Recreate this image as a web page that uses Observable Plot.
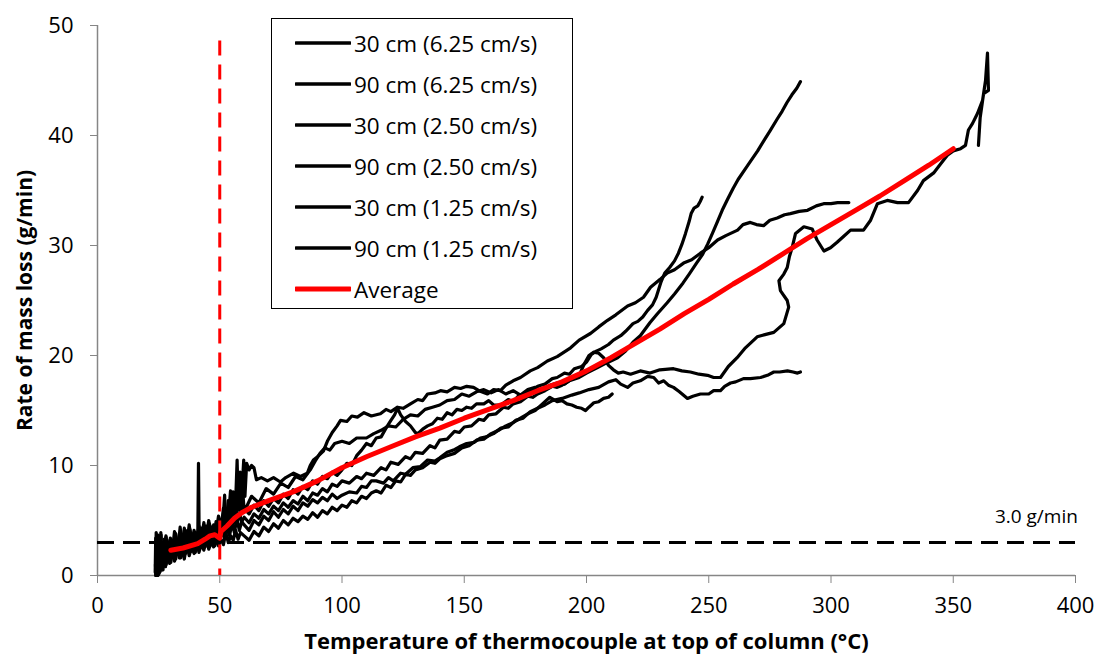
<!DOCTYPE html>
<html><head><meta charset="utf-8">
<script src="https://cdn.jsdelivr.net/npm/d3@7"></script>
<script src="https://cdn.jsdelivr.net/npm/@observablehq/plot@0.6"></script>
<style>
body{margin:0;background:#fff;}
#wrap{position:relative;width:1097px;height:662px;font-family:"Open Sans",sans-serif;}
#legend{position:absolute;left:271px;top:18px;width:302px;height:291px;border:1.5px solid #000;background:#fff;box-sizing:border-box;}
.row{position:absolute;left:0;height:32px;display:flex;align-items:center;font-size:22.5px;color:#000;white-space:nowrap;}
.row svg{margin-left:23px;margin-right:3px;}
</style></head><body><div id="wrap"></div>
<script>
// ---- data ----
const xTicks = [0,50,100,150,200,250,300,350,400];
const yTicks = [0,10,20,30,40,50];
const thresholdTemp = 50;      // red dashed vertical
const thresholdRate = 3.0;     // black dashed horizontal
const thresholdLabel = "3.0 g/min";
const xTitle = "Temperature of thermocouple at top of column (°C)";
const yTitle = "Rate of mass loss (g/min)";

const seriesNames = ["30 cm (6.25 cm/s)","90 cm (6.25 cm/s)","30 cm (2.50 cm/s)","90 cm (2.50 cm/s)","30 cm (1.25 cm/s)","90 cm (1.25 cm/s)","Average"];

const s30_625 = [[23.6,0.3],[23.8,3.4],[24,0.6],[24.2,2.9],[24.4,0.1],[24.6,3.7],[24.9,0.4],[25.2,3.0],[25.6,0.4],[26,3.7],[26.4,1.1],[26.8,2.6],[27.4,0.9],[28.2,3.0],[29,1.6],[30,3.3],[31,1.9],[32,3.8],[33,2.1],[34,3.4],[35,2.3],[36,4.1],[37,2.6],[38,3.7],[39,2.5],[40,3.9],[41,3.0],[41.3,10.2],[41.6,3.1],[42.5,4.3],[43.5,3.0],[44.5,4.5],[45.5,3.2],[46.5,4.4],[47.5,3.5],[48.5,4.9],[49.5,3.6],[50.5,5.1],[51.5,4.0],[52.5,5.8],[53.5,4.3],[54.5,6.2],[55.5,4.7],[56.5,6.0],[58,5.3],[60,6.1],[62,5.6],[64,6.4],[66,5.9],[68,6.8],[70,6.3],[72,7.0],[74,6.6],[76,7.4],[78,7.0],[80,7.8],[82,7.4],[84,8.1],[86,7.8],[88,8.6],[90,8.3],[92,9.0],[94,8.8],[96,9.4],[98,9.1],[100,9.6],[102,10.2],[104,10.0],[106,10.9],[108,11.4],[110,12.0],[112,11.8],[114,12.5],[116,12.6],[118,13.4],[120,14.1],[121.5,14.6],[122.7,15.2],[124,14.6],[126,14.0],[128,13.6],[130,13.0],[131,12.9],[133,13.3],[135,13.6],[137,13.8],[139,14.3],[141,14.2],[143,14.8],[145,14.6],[147,15.1],[149,15.0],[151,15.3],[153,15.2],[155,15.6],[158,15.6],[160,15.9],[162,15.5],[165,15.5],[168,16.0],[170,15.8],[172,16.3],[175,16.5],[178,16.9],[180,17.2],[183,17.4],[186,17.9],[188,18.0],[191,18.4],[193,18.3],[195,18.8],[198,19.0],[200,19.4],[202,20.1],[204,20.4],[206,20.6],[209,21.0],[211,21.4],[214,21.8],[216,22.2],[219,22.9],[221,23.1],[223,23.5],[225,24.1],[227,24.6],[228.5,25.3],[229.5,26.0],[230.5,26.7],[232,27.5],[234,28.0],[236,28.6],[237.6,29.3],[239,30.1],[240.5,31.1],[242,32.2],[242.8,32.9],[244,33.4],[245.5,33.6],[246.5,34.0],[247.3,34.4]];

const s90_625 = [[24.5,0],[24.7,2.5],[25,0.3],[25.3,3.1],[25.7,0.8],[26.2,2.2],[26.8,0.5],[27.5,2.8],[28.3,1.3],[29.2,2.4],[30.2,1.6],[31.2,3.0],[32.2,1.9],[33.2,2.7],[34.2,1.8],[35.2,3.2],[36.2,2.3],[37.2,3.5],[38.2,2.2],[39.2,3.1],[40.2,2.6],[41.2,3.6],[42.2,2.8],[43.2,3.9],[44.2,3.0],[45.2,4.2],[46.2,3.1],[47.2,3.8],[48.2,2.9],[49.2,4.1],[50.2,3.3],[51.2,4.6],[52,7.3],[52.5,3.9],[53.5,5.0],[54.4,7.7],[55,4.4],[56,5.2],[57,4.6],[58,5.6],[59,4.9],[60,5.3],[62,4.8],[64,5.6],[66,5.2],[68,6.0],[70,5.6],[72,6.3],[74,5.9],[76,6.6],[78,6.2],[80,6.8],[82,6.5],[84,7.2],[86,6.8],[88,7.5],[90,7.3],[92,7.9],[94,7.6],[96,8.3],[98,8.1],[100,8.6],[103,8.4],[106,9.0],[108,8.8],[110,9.3],[113,9.1],[116,9.8],[118,9.6],[120,10.3],[123,10.1],[126,10.8],[128,10.6],[130,11.2],[133,11.1],[136,11.8],[138,11.6],[140,12.3],[143,12.4],[146,13.1],[148,13.0],[150,13.5],[153,13.6],[156,14.2],[158,14.1],[160,14.6],[163,14.7],[166,15.3],[168,15.2],[170,15.6],[173,15.8],[176,16.3],[178,16.2],[180,16.5],[183,16.8],[186,17.2],[188,17.1],[190,17.3],[193,17.7],[197,18.0],[200,18.4],[204.5,18.9],[208,19.3],[212.7,19.8],[216,20.4],[219,21.2],[222,21.8],[226,23.0],[229,23.8],[233,24.8],[236,25.6],[239.5,26.6],[242,27.4],[245,28.4],[247.5,29.2],[249.5,30.1],[251.5,31.1],[253.6,32.2],[255.5,33.2],[257.7,34.2],[260,35.2],[262,36.0],[266,37.3],[270,38.6],[273,39.7],[275,40.4],[278,41.5],[280,42.2],[282,43.0],[284,43.7],[286,44.3],[287.5,44.9]];

const s30_250 = [[25,0.1],[25.2,2.2],[25.5,0.7],[25.9,3.9],[26.3,1.4],[26.8,3.0],[27.4,1.2],[28,3.5],[28.8,1.8],[29.6,3.2],[30.5,2.0],[31.5,4.0],[32.5,2.4],[33.5,3.7],[34.5,2.6],[35.5,4.3],[36.5,2.9],[37.5,4.6],[38.5,3.0],[39.5,4.1],[40.5,3.2],[41.5,4.5],[42.5,3.4],[43.5,4.8],[44.5,3.5],[45.5,5.0],[46.5,3.7],[47.5,4.6],[48.5,3.9],[49.5,5.4],[50.5,4.2],[51.5,6.1],[52.5,4.6],[53.5,6.8],[54.5,5.0],[55.5,7.6],[56.3,5.4],[57.1,10.5],[57.6,6.0],[58.3,9.4],[58.8,6.5],[59.8,10.5],[60.3,7.2],[61,10.2],[62,9.6],[63,10.0],[64,9.8],[65,8.7],[67,8.9],[69.5,8.6],[72,8.9],[74.8,8.5],[77,8.9],[80.2,9.3],[83,9.0],[85.8,9.3],[87,10.0],[88.3,10.5],[90,10.8],[92.4,11.3],[94,12.2],[96,13.0],[98,13.6],[99.4,14.1],[102,14.0],[104,14.5],[106.3,14.4],[109,14.8],[112,14.5],[115.7,14.7],[118,15.1],[120,14.9],[122.7,15.3],[125,15.2],[128,15.6],[131,16.0],[133,15.9],[135,16.5],[138,16.6],[140.3,16.8],[143,16.7],[146,17.1],[148.5,17.0],[151,17.2],[153.8,17.1],[156,16.8],[159.5,16.5],[162,16.9],[164.8,16.8],[167,17.3],[170,17.7],[173,18.0],[177,18.6],[180,18.9],[184,19.5],[188,19.9],[193.5,20.7],[197,21.4],[201.6,22.0],[205,22.6],[208.6,23.2],[212,23.7],[216.8,24.5],[220,24.8],[223.3,25.3],[226.2,26.2],[230,26.9],[233,27.5],[236,27.8],[239.7,28.4],[243,28.7],[246.6,29.3],[250,29.8],[253.6,30.5],[257,30.9],[261.8,31.4],[264,31.9],[267,32.1],[269.5,31.9],[272.4,31.8],[275,32.3],[278,32.5],[281,32.8],[283.4,32.9],[287,33.1],[290.4,33.2],[294,33.6],[297,33.8],[300,33.8],[302.7,33.9],[305,33.9],[307.3,33.9]];

const s90_250 = [[23.8,0],[24,3.9],[24.3,0.2],[24.6,2.4],[25,0.9],[25.4,3.1],[25.9,0.6],[26.5,2.7],[27.2,1.5],[28,3.6],[28.9,2.0],[29.8,3.4],[30.8,1.7],[31.8,2.9],[32.8,2.2],[33.8,4.4],[34.8,2.5],[35.8,3.5],[36.8,2.7],[37.8,4.2],[38.8,2.9],[39.8,3.6],[40.8,3.1],[41.8,4.2],[42.8,3.3],[43.8,4.0],[44.8,3.4],[45.8,4.7],[46.8,3.6],[47.8,4.3],[48.8,3.8],[49.8,5.0],[50.8,4.1],[51.8,5.4],[52.8,4.5],[53.8,6.3],[54.8,4.9],[55.8,6.6],[56.8,5.2],[58,8.0],[58.6,5.6],[59.5,7.4],[60,5.8],[63,7.2],[66,6.6],[69,7.9],[72,7.4],[75,8.4],[78,8.0],[81,9.0],[84,8.7],[87,9.6],[89,10.4],[91,11.1],[93,11.6],[95,11.4],[97,12.0],[100,12.2],[103,12.0],[106,12.5],[110,12.5],[113,12.9],[116,13.2],[119,13.6],[122,13.5],[125,14.2],[128,14.6],[131,14.5],[134,15.1],[137,15.3],[140,15.5],[143,15.9],[146,16.0],[149,16.5],[152,16.3],[155,16.7],[158,16.9],[161,16.6],[164,16.9],[167,16.5],[170,16.8],[173,16.4],[176,16.9],[179,17.1],[182,16.8],[185,17.3],[188,17.5],[191,17.4],[194,17.9],[197,18.2],[199,19.2],[201,20.0],[203,20.3],[205,20.2],[207,19.8],[209,19.1],[211,18.7],[213,18.4],[215,18.5],[218,18.3],[222,18.6],[226,18.4],[230,18.7],[235.6,18.8],[239,18.6],[242.5,18.5],[246,18.3],[249.5,18.2],[252,18.0],[254.8,18.0],[258,19.0],[261.6,19.8],[265,20.7],[269.8,21.7],[273,21.9],[276.6,22.1],[280.7,22.9],[282.7,24.4],[282.1,25.0],[279.3,25.9],[278.7,26.8],[280.7,27.4],[282.1,28.0],[283,29.0],[284.1,29.8],[285.5,31.1],[288.9,31.7],[292.3,31.5],[294.3,30.5],[297.1,29.5],[299.8,29.8],[302.5,30.3],[305,30.8],[308,31.4],[313.3,31.4],[316.2,32.3],[319,33.8],[323,34.1],[327.2,33.9],[331.7,33.9],[335.4,35.0],[337.8,35.9],[342,36.6],[344.8,37.4],[347.6,38.2],[350,38.6],[353,38.8],[355,39.1],[356.2,40.5],[357.9,41.1],[359.9,42.0],[362,43.2],[363.2,45.0],[364,47.5],[364.4,44.1],[362.4,43.8],[361,41.6],[360.3,39.1]];

const s30_125 = [[24.2,0.4],[24.4,2.9],[24.7,0],[25.1,3.6],[25.5,0.3],[26,2.0],[26.6,0.7],[27.3,3.3],[28.1,1.0],[29,2.6],[30,1.2],[31,2.8],[32,1.5],[33,3.0],[34,1.6],[35,2.7],[36,2.0],[37,3.3],[38,2.2],[39,2.9],[40,2.1],[41,3.4],[42,2.5],[43,3.3],[44,2.6],[45,3.9],[46,2.8],[47,3.6],[48,2.7],[49,3.5],[50,3.0],[51,4.2],[52,3.4],[53,4.5],[54,3.6],[55,4.8],[56,3.9],[57,5.2],[58,4.1],[59,4.9],[60,4.6],[62,4.1],[64,5.0],[66,4.6],[68,5.4],[70,5.0],[72,5.8],[74,5.3],[76,6.0],[78,5.6],[80,6.3],[82,5.9],[84,6.6],[86,6.3],[88,6.9],[90,6.6],[92,7.1],[94,6.8],[96,7.4],[98,7.0],[100,7.3],[103,7.6],[106,7.5],[108,8.1],[110,8.0],[112,8.6],[114,8.6],[117,8.4],[119,8.9],[121,8.6],[124,9.3],[126,9.2],[129,9.8],[132,9.9],[135,10.5],[138,10.4],[140,10.7],[143,11.2],[145.6,11.4],[148,11.7],[151,12.0],[154,12.1],[156.6,12.5],[159,12.6],[162,12.9],[165,13.4],[168,13.5],[171,14.1],[174,14.3],[177,14.9],[180,15.2],[183,15.5],[186,15.9],[190,16.1],[194,16.4],[197,16.6],[201,16.9],[205,17.1],[209,17.6],[212,17.8],[214,17.4],[216.8,17.1],[219,17.5],[222,17.7],[225,18.1],[227.5,18.0],[229.5,17.5],[231.6,17.7],[233.5,17.3],[235.6,17.1],[238,16.7],[241.3,16.1],[243.5,16.3],[246.6,16.5],[250,16.5],[252,16.8],[254.8,16.8],[256.5,17.2],[258.9,17.5],[261,17.6],[264.2,17.9],[267,17.9],[271.2,18.0],[274,18.2],[276.6,18.5],[279,18.5],[282.2,18.6],[284.5,18.5],[286.3,18.4],[287.5,18.5]];

const s90_125 = [[23.7,1.0],[23.9,0],[24.1,2.6],[24.4,0],[24.8,1.8],[25.2,0.2],[25.7,2.5],[26.3,0.5],[27,1.6],[27.8,0.8],[28.6,2.1],[29.5,1.1],[30.5,2.3],[31.5,1.3],[32.5,2.6],[33.5,1.6],[34.5,2.4],[35.5,1.5],[36.5,2.8],[37.5,1.8],[38.5,2.6],[39.5,2.0],[40.5,3.1],[41.5,2.1],[42.5,2.9],[43.5,2.3],[44.5,3.3],[45.5,2.4],[46.5,3.0],[47.5,2.6],[48.5,3.6],[49.5,2.7],[50.5,3.3],[51.5,2.8],[52.5,3.9],[53.5,3.0],[54.5,3.6],[55.5,3.2],[56.5,4.1],[57.5,3.3],[58.5,3.9],[60,3.6],[62,3.2],[64,4.0],[66,3.6],[68,4.4],[70,4.0],[72,4.7],[74,4.3],[76,5.0],[78,4.6],[80,5.2],[82,4.9],[84,5.4],[86,5.1],[88,5.7],[90,5.3],[92,5.9],[94,5.6],[96,6.2],[98,5.9],[100,6.4],[102,6.2],[104,6.8],[106,6.6],[108,7.2],[110,7.0],[112,7.5],[114,7.7],[116,7.5],[118,8.2],[120,8.0],[122,8.6],[124,8.5],[126,9.2],[128,9.1],[130,9.6],[133,9.8],[136,10.3],[138,10.2],[140,10.6],[143,10.9],[146,11.1],[149,11.6],[152,11.8],[155,12.3],[158,12.4],[161,12.9],[164,13.2],[167,13.6],[170,13.9],[173,14.3],[176,14.7],[179,15.0],[182,15.6],[185,16.2],[188,15.8],[190,15.9],[192,15.6],[194,15.5],[196,15.3],[198,15.2],[199.6,15.0],[201,15.3],[203,15.7],[205,15.8],[207,16.1],[209,16.2],[210.5,16.5]];

const sAverage = [[30,2.3],[35,2.5],[41,2.9],[44,3.3],[46,3.6],[48,3.7],[50,3.4],[50.5,4.0],[53,4.5],[56,5.2],[59,5.7],[63,6.2],[70,6.8],[80,7.6],[90,8.6],[100,9.8],[110,10.8],[120,11.7],[130,12.6],[140,13.4],[150,14.3],[160,15.1],[170,15.9],[180,16.8],[190,17.6],[200,18.6],[210,19.8],[220,21.1],[230,22.4],[240,23.8],[250,25.1],[260,26.5],[270,27.8],[280,29.2],[290,30.6],[300,31.9],[310,33.2],[320,34.5],[330,35.9],[340,37.3],[350,38.8]];

const blackSeries = [s30_625, s90_625, s30_250, s90_250, s30_125, s90_125];
const seriesColors = ["#000","#000","#000","#000","#000","#000","#ff0000"];

// ---- chart ----
const gray = "#868686";
const lineMarks = blackSeries.map(s => Plot.line(s, {x: d => d[0], y: d => d[1], stroke: "#000", strokeWidth: 3.2, strokeLinejoin: "round", strokeLinecap: "round"}));

const chart = Plot.plot({
  width: 1097, height: 662,
  marginLeft: 97, marginRight: 22, marginTop: 25, marginBottom: 87,
  style: {fontFamily: "'Open Sans', sans-serif", fontSize: "22px", background: "#fff", color: "#000"},
  x: {domain: [xTicks[0], xTicks[xTicks.length-1]]},
  y: {domain: [yTicks[0], yTicks[yTicks.length-1]]},
  marks: [
    Plot.axisX(xTicks, {tickSize: 8, tickPadding: 14, fontSize: 22, stroke: gray, fill: "#000", label: null}),
    Plot.axisY(yTicks, {tickSize: 7, tickPadding: 17, fontSize: 22, stroke: gray, fill: "#000", label: null}),
    Plot.ruleY([yTicks[0]], {stroke: gray, strokeWidth: 1.5}),
    Plot.ruleX([xTicks[0]], {stroke: gray, strokeWidth: 1.5}),
    Plot.ruleY([thresholdRate], {x1: xTicks[0], x2: xTicks[xTicks.length-1], stroke: "#000", strokeWidth: 3, strokeDasharray: "17,9"}),
    ...lineMarks,
    Plot.line(sAverage, {x: d => d[0], y: d => d[1], stroke: "#ff0000", strokeWidth: 5, strokeLinejoin: "round", strokeLinecap: "round"}),
    Plot.ruleX([thresholdTemp], {y1: 48.6, y2: yTicks[0], stroke: "#ff0000", strokeWidth: 3, strokeDasharray: "15,9"}),
    Plot.text([thresholdLabel], {x: 384, y: 5.3, fontSize: 19, fill: "#000"}),
    Plot.text([xTitle], {frameAnchor: "bottom", dy: 73, fontSize: 22, fontWeight: "bold", fill: "#000"}),
    Plot.text([yTitle], {frameAnchor: "left", dx: -72, rotate: -90, textAnchor: "middle", fontSize: 21, fontWeight: "bold", fill: "#000"})
  ]
});

const wrap = document.getElementById("wrap");
wrap.appendChild(chart);

// legend (HTML overlay)
const legend = document.createElement("div");
legend.id = "legend";
const rowCenters = [24, 65, 106, 147, 188, 229, 270];
seriesNames.forEach((name, i) => {
  const row = document.createElement("div");
  row.className = "row";
  row.style.top = (rowCenters[i] - 16) + "px";
  const w = i === 6 ? 5 : 3.5;
  row.innerHTML = `<svg width="56" height="10"><line x1="1" x2="55" y1="5" y2="5" stroke="${seriesColors[i]}" stroke-width="${w}" stroke-linecap="round"/></svg><span>${name}</span>`;
  legend.appendChild(row);
});
wrap.appendChild(legend);
</script></body></html>
